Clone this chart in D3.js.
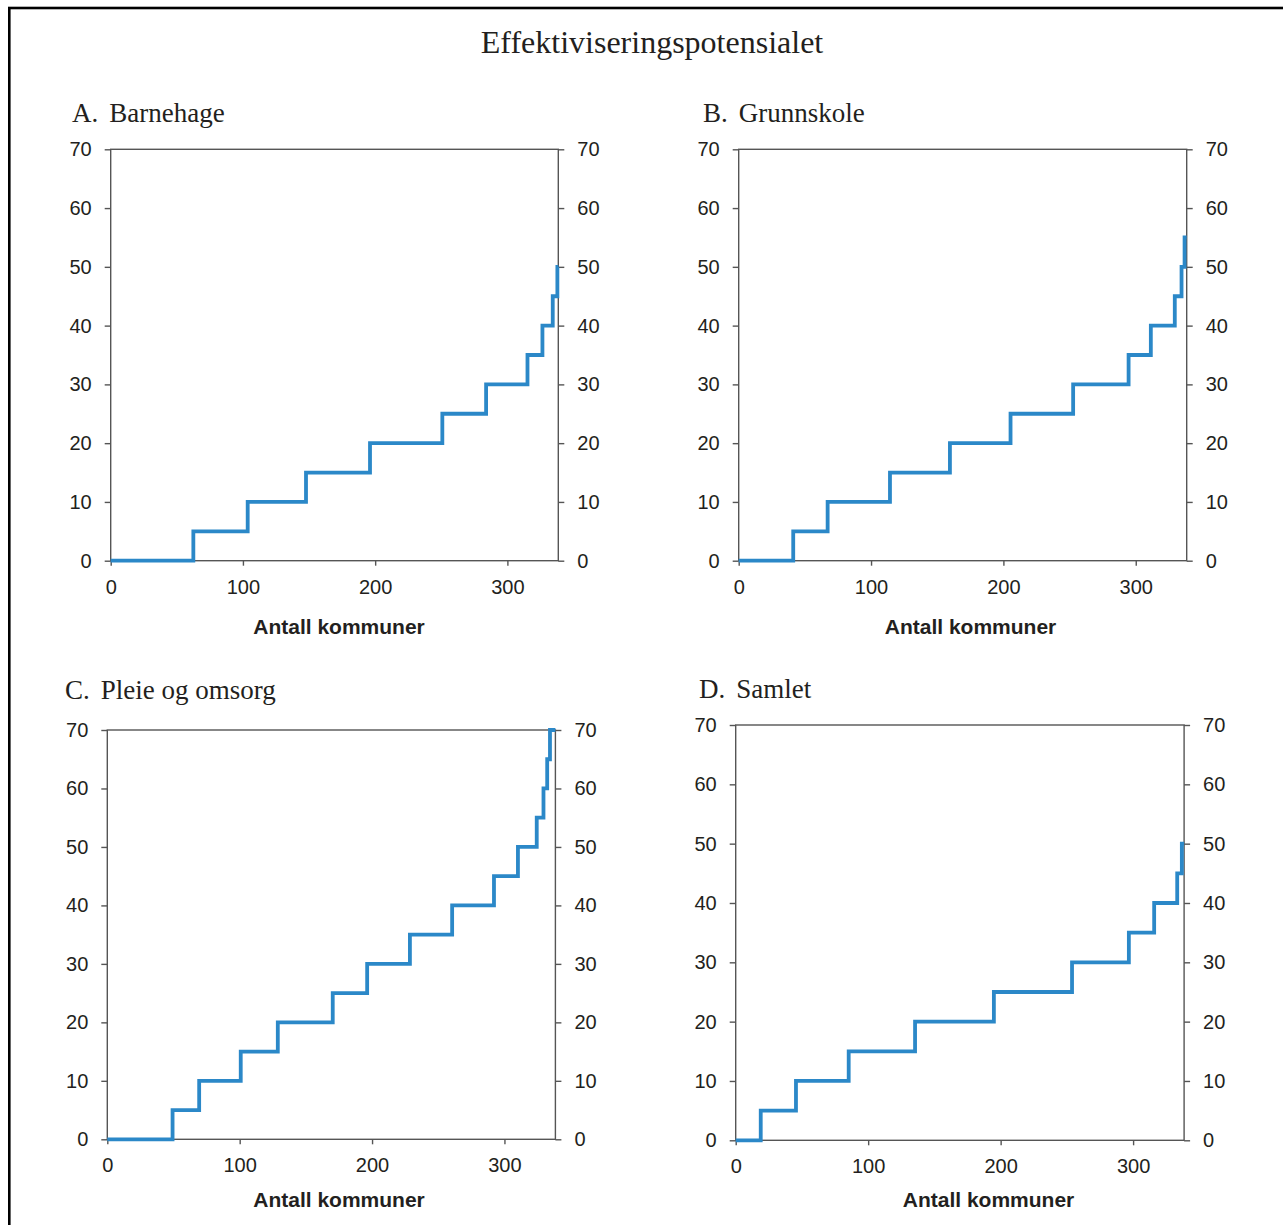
<!DOCTYPE html>
<html>
<head>
<meta charset="utf-8">
<script src="https://cdn.jsdelivr.net/npm/d3@7"></script>
<style>
  html, body { margin: 0; padding: 0; background: #fff; }
  svg { display: block; }
</style>
</head>
<body>
<svg id="chart" width="1283" height="1225"></svg>
<script>
// ---------- DATA ----------
const chartTitle = "Effektiviseringspotensialet";
const xAxisTitle = "Antall kommuner";
const xTicks = [0, 100, 200, 300];
const yTicks = [0, 10, 20, 30, 40, 50, 60, 70];
const xMax = 338.5;
const yMax = 70;

const panelLetters = ["A.", "B.", "C.", "D."];
const panelNames = ["Barnehage", "Grunnskole", "Pleie og omsorg", "Samlet"];

// x = antall kommuner where each step starts, y = potensial (%)
const barnehageX = [0, 62.5, 103.6, 147.7, 196.1, 250.8, 283.9, 315.2, 326.5, 334.3, 337.8];
const barnehageY = [0, 5, 10, 15, 20, 25, 30, 35, 40, 45, 50];

const grunnskoleX = [0, 41.2, 67.2, 114.3, 159.6, 205.4, 252.7, 294.6, 311.4, 329.5, 334.6, 336.9];
const grunnskoleY = [0, 5, 10, 15, 20, 25, 30, 35, 40, 45, 50, 55];

const pleieX = [0, 49.3, 69.4, 100.8, 128.8, 170.3, 196.3, 228.6, 260.5, 292.1, 310.2, 324.4, 329.5, 332.3, 334.4];
const pleieY = [0, 5, 10, 15, 20, 25, 30, 35, 40, 45, 50, 55, 60, 65, 70];

const samletX = [0, 18.9, 45.5, 85.3, 135.4, 194.9, 253.9, 296.8, 315.9, 333.3, 336.8];
const samletY = [0, 5, 10, 15, 20, 25, 30, 35, 40, 45, 50];

const seriesX = [barnehageX, grunnskoleX, pleieX, samletX];
const seriesY = [barnehageY, grunnskoleY, pleieY, samletY];

// ---------- LAYOUT ----------
const layout = [
  { left: 110.7, right: 558.3, top: 149.3, bottom: 560.7, tx: 72,  ty: 122, lx: 339,   ly: 633.5 },
  { left: 738.7, right: 1186.7, top: 149.3, bottom: 560.7, tx: 703, ty: 122, lx: 970.5, ly: 633.5 },
  { left: 107.3, right: 555.4, top: 730,   bottom: 1139.3, tx: 65,  ty: 699, lx: 339,   ly: 1206.5 },
  { left: 735.7, right: 1184.1, top: 725,  bottom: 1140.3, tx: 699, ty: 698, lx: 988.5, ly: 1206.5 }
];

const svg = d3.select("#chart");
const LINE = "#2b88c8";
const AXIS = "#555";
const TEXT = "#231f20";
const sans = "'Liberation Sans', Arial, Helvetica, sans-serif";
const serif = "'Liberation Serif', 'Times New Roman', Times, serif";

// outer frame (only top and left edges visible)
svg.append("rect")
  .attr("x", 9.3).attr("y", 8).attr("width", 1300).attr("height", 1240)
  .attr("fill", "none").attr("stroke", "#000").attr("stroke-width", 2.6);

svg.append("text")
  .attr("x", 652).attr("y", 53)
  .attr("text-anchor", "middle")
  .attr("font-family", serif).attr("font-size", 32)
  .attr("fill", TEXT)
  .text(chartTitle);

layout.forEach((L, i) => {
  const x = d3.scaleLinear().domain([0, xMax]).range([L.left, L.right]);
  const y = d3.scaleLinear().domain([0, yMax]).range([L.bottom, L.top]);
  const g = svg.append("g");

  // panel title
  const t = g.append("text")
    .attr("x", L.tx).attr("y", L.ty)
    .attr("font-family", serif).attr("font-size", 27)
    .attr("fill", TEXT);
  t.append("tspan").text(panelLetters[i]);
  t.append("tspan").attr("dx", 11).text(panelNames[i]);

  // plot frame
  g.append("rect")
    .attr("x", L.left).attr("y", L.top)
    .attr("width", L.right - L.left).attr("height", L.bottom - L.top)
    .attr("fill", "none").attr("stroke", AXIS).attr("stroke-width", 1.4);

  // axes
  const styleAxis = sel => {
    sel.select(".domain").remove();
    sel.selectAll(".tick line").attr("stroke", AXIS).attr("stroke-width", 1.4);
    sel.selectAll(".tick text")
      .attr("font-family", sans).attr("font-size", 20).attr("fill", TEXT);
  };
  g.append("g").attr("transform", `translate(${L.left},0)`)
    .call(d3.axisLeft(y).tickValues(yTicks).tickSize(6).tickPadding(13).tickFormat(d3.format("d")))
    .call(styleAxis);
  g.append("g").attr("transform", `translate(${L.right},0)`)
    .call(d3.axisRight(y).tickValues(yTicks).tickSize(6).tickPadding(13).tickFormat(d3.format("d")))
    .call(styleAxis);
  g.append("g").attr("transform", `translate(0,${L.bottom})`)
    .call(d3.axisBottom(x).tickValues(xTicks).tickSize(5).tickPadding(14).tickFormat(d3.format("d")))
    .call(styleAxis);

  // axis title
  g.append("text")
    .attr("x", L.lx).attr("y", L.ly)
    .attr("text-anchor", "middle")
    .attr("font-family", sans).attr("font-size", 21).attr("font-weight", "bold")
    .attr("fill", TEXT)
    .text(xAxisTitle);

  // step line
  const xs = seriesX[i], ys = seriesY[i];
  const pts = xs.map((v, k) => [v, ys[k]]);
  pts.push([xMax, ys[ys.length - 1]]);
  const line = d3.line()
    .x(d => x(d[0])).y(d => y(d[1]))
    .curve(d3.curveStepAfter);
  g.append("path")
    .attr("d", line(pts))
    .attr("fill", "none")
    .attr("stroke", LINE)
    .attr("stroke-width", 3.8)
    .attr("stroke-linejoin", "miter");
});
</script>
</body>
</html>
